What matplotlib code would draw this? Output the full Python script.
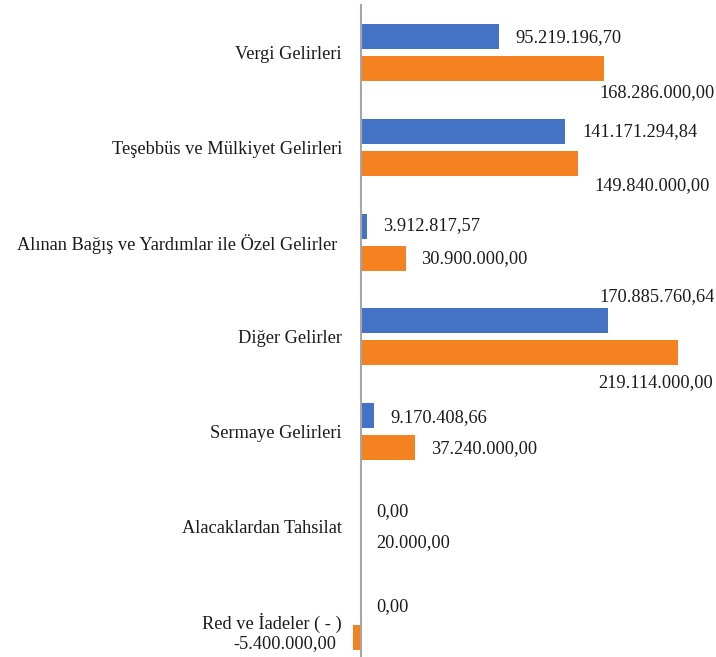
import numpy as np
import matplotlib
matplotlib.use('Agg')
import matplotlib.pyplot as plt

plt.rcParams['font.family'] = ['Liberation Serif', 'DejaVu Serif']

categories = ['Vergi Gelirleri', 'Teşebbüs ve Mülkiyet Gelirleri',
              'Alınan Bağış ve Yardımlar ile Özel Gelirler ', 'Diğer Gelirler',
              'Sermaye Gelirleri', 'Alacaklardan Tahsilat', 'Red ve İadeler ( - )']
seri_mavi = [95219196.70, 141171294.84, 3912817.57, 170885760.64, 9170408.66, 0.0, 0.0]
seri_turuncu = [168286000.00, 149840000.00, 30900000.00, 219114000.00, 37240000.00, 20000.00, -5400000.00]
etiket_mavi = ['95.219.196,70', '141.171.294,84', '3.912.817,57', '170.885.760,64',
               '9.170.408,66', '0,00', '0,00']
etiket_turuncu = ['168.286.000,00', '149.840.000,00', '30.900.000,00', '219.114.000,00',
                  '37.240.000,00', '20.000,00', '-5.400.000,00']

# label offsets from the bar end, in pixels (dx, dy down), ha
ofs_mavi = [(17, 1, 'left'), (17, 0, 'left'), (16, 0, 'left'), (-9, -24, 'left'),
            (16, 2, 'left'), (15, 1, 'left'), (15, 1, 'left')]
ofs_turuncu = [(-5, 24, 'left'), (17, 22, 'left'), (15, 0, 'left'), (-80, 30, 'left'),
               (16, 1, 'left'), (15, 0, 'left'), (-17, 6, 'right')]

MAVI = '#4472C4'
TURUNCU = '#F58220'
fs = 13.2

fig = plt.figure(figsize=(7.16, 6.57), dpi=100)
ax = fig.add_axes([300 / 716, 0, 416 / 716, 652 / 657])

for s in ['top', 'right', 'bottom']:
    ax.spines[s].set_visible(False)
ax.spines['left'].set_position(('data', 0))
ax.spines['left'].set_color('#A6A6A6')
ax.spines['left'].set_linewidth(1.5)
ax.patch.set_alpha(0)

y = np.arange(len(categories))
h = 0.264
off = 0.169
ax.barh(y - off, np.array(seri_mavi) / 1e6, height=h, color=MAVI)
ax.barh(y + off, np.array(seri_turuncu) / 1e6, height=h, color=TURUNCU)

px = 72 / 100
for i in range(len(categories)):
    dx, dy, ha = ofs_mavi[i]
    ax.annotate(etiket_mavi[i], (seri_mavi[i] / 1e6, y[i] - off), xytext=(dx * px, -dy * px),
                textcoords='offset points', ha=ha, va='center', fontsize=fs, color='#1a1a1a')
    dx, dy, ha = ofs_turuncu[i]
    ax.annotate(etiket_turuncu[i], (seri_turuncu[i] / 1e6, y[i] + off), xytext=(dx * px, -dy * px),
                textcoords='offset points', ha=ha, va='center', fontsize=fs, color='#1a1a1a')

ax.set_xlim(-42.16, 245.4)
ax.set_ylim(6.375, -0.5)
ax.set_yticks(y)
ax.set_yticklabels(categories)
ax.tick_params(axis='y', length=0, pad=13.7, labelsize=fs, labelcolor='#1a1a1a')
ax.set_xticks([])

fig.savefig('out.png', dpi=100)
